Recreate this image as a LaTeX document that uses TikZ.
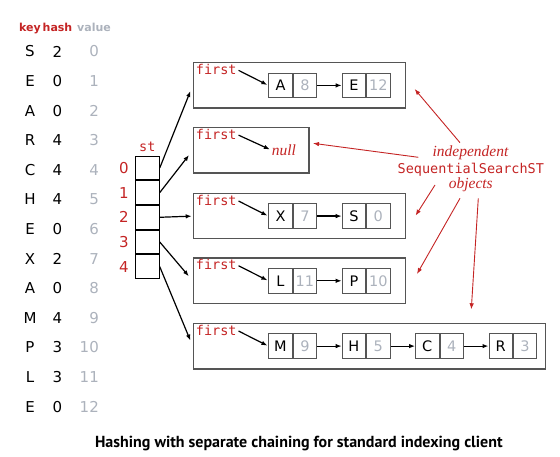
\documentclass[tikz,border=0pt]{standalone}
\usepackage{fontspec}
\setmainfont{DejaVu Sans}
\setmonofont{DejaVu Sans Mono}
\newfontfamily\capfont{PT Sans}
\newfontfamily\itfont{Liberation Serif}
\usepackage{xcolor}
\usetikzlibrary{positioning,arrows.meta}
\definecolor{bookred}{RGB}{196,36,36}
\definecolor{valgray}{RGB}{172,178,188}
\definecolor{framegray}{RGB}{85,85,85}

\begin{document}
\begin{tikzpicture}[
      x=1pt, y=-1pt,
      >={Latex[length=6pt,width=4.5pt]},
      key/.style = {inner sep=0pt, font=\fontsize{15}{17}\selectfont},
      val/.style = {key, anchor=east, text=valgray},
      head/.style = {inner sep=0pt, anchor=base, font=\bfseries\fontsize{11}{13}\selectfont},
      slot/.style = {shape=rectangle, draw, line width=0.9pt, minimum width=24pt, minimum height=23.8pt, inner sep=0pt},
      idx/.style = {inner sep=0pt, text=bookred, font=\fontsize{15}{17}\selectfont},
      chain/.style = {shape=rectangle, draw=framegray, line width=1.3pt, minimum height=45.5pt, inner sep=0pt},
      firstlbl/.style = {inner sep=0pt, anchor=north west, text=bookred, font=\ttfamily\fontsize{13.5}{15}\selectfont},
      kcell/.style = {shape=rectangle, draw=framegray, line width=1pt, minimum width=23.4pt, minimum height=24.6pt, inner sep=0pt, font=\fontsize{14.5}{16}\selectfont},
      vcell/.style = {kcell, text=valgray},
      note/.style = {inner sep=0pt, anchor=base, text=bookred},
      link/.style = {->, line width=1.2pt},
      pointer/.style = {->, draw=bookred, line width=0.9pt}
    ]
      \useasboundingbox (0,0) rectangle (560,457);

      % input table
      \node[head, text=bookred] (hkey) at (30,31.7) {key};
      \node[head, text=bookred] (hhash) at (57.5,31.7) {hash};
      \node[head, text=valgray] (hval) at (94,31.7) {value};
      \node[key] (k0) at (30,51.5) {S}; \node[key] (h0) at (57.5,51.5) {2}; \node[val] (v0) at (99,51.5) {0};
      \node[key] (k1) at (30,81.1) {E}; \node[key] (h1) at (57.5,81.1) {0}; \node[val] (v1) at (99,81.1) {1};
      \node[key] (k2) at (30,110.7) {A}; \node[key] (h2) at (57.5,110.7) {0}; \node[val] (v2) at (99,110.7) {2};
      \node[key] (k3) at (30,140.3) {R}; \node[key] (h3) at (57.5,140.3) {4}; \node[val] (v3) at (99,140.3) {3};
      \node[key] (k4) at (30,169.9) {C}; \node[key] (h4) at (57.5,169.9) {4}; \node[val] (v4) at (99,169.9) {4};
      \node[key] (k5) at (30,199.5) {H}; \node[key] (h5) at (57.5,199.5) {4}; \node[val] (v5) at (99,199.5) {5};
      \node[key] (k6) at (30,229.1) {E}; \node[key] (h6) at (57.5,229.1) {0}; \node[val] (v6) at (99,229.1) {6};
      \node[key] (k7) at (30,258.7) {X}; \node[key] (h7) at (57.5,258.7) {2}; \node[val] (v7) at (99,258.7) {7};
      \node[key] (k8) at (30,288.3) {A}; \node[key] (h8) at (57.5,288.3) {0}; \node[val] (v8) at (99,288.3) {8};
      \node[key] (k9) at (30,317.9) {M}; \node[key] (h9) at (57.5,317.9) {4}; \node[val] (v9) at (99,317.9) {9};
      \node[key] (k10) at (30,347.5) {P}; \node[key] (h10) at (57.5,347.5) {3}; \node[val] (v10) at (99,347.5) {10};
      \node[key] (k11) at (30,377.1) {L}; \node[key] (h11) at (57.5,377.1) {3}; \node[val] (v11) at (99,377.1) {11};
      \node[key] (k12) at (30,406.7) {E}; \node[key] (h12) at (57.5,406.7) {0}; \node[val] (v12) at (99,406.7) {12};

      % array st[]
      \node[slot] (s0) at (147.3,167.9) {};
      \node[slot, below=0pt of s0] (s1) {};
      \node[slot, below=0pt of s1] (s2) {};
      \node[slot, below=0pt of s2] (s3) {};
      \node[slot, below=0pt of s3] (s4) {};
      \node[inner sep=0pt, above=3.5pt of s0, text=bookred, font=\ttfamily\fontsize{13.5}{15}\selectfont] (st) {st};
      \node[idx, left=6pt of s0] (i0) {0};
      \node[idx, left=6pt of s1] (i1) {1};
      \node[idx, left=6pt of s2] (i2) {2};
      \node[idx, left=6pt of s3] (i3) {3};
      \node[idx, left=6pt of s4] (i4) {4};

      % SequentialSearchST objects
      \node[chain, minimum width=212.3pt, anchor=north west] (box0) at (192.7,62) {};
      \node[chain, minimum width=115.6pt, anchor=north west] (box1) at (192.7,126.9) {};
      \node[chain, minimum width=212.3pt, anchor=north west] (box2) at (192.7,192.7) {};
      \node[chain, minimum width=212.3pt, anchor=north west] (box3) at (192.7,257.4) {};
      \node[chain, minimum width=352.3pt, anchor=north west] (box4) at (192.7,322.7) {};

      \node[firstlbl] (f0) at ([xshift=3pt,yshift=-2pt]box0.north west) {first};
      \node[firstlbl] (f1) at ([xshift=3pt,yshift=-2pt]box1.north west) {first};
      \node[firstlbl] (f2) at ([xshift=3pt,yshift=-2pt]box2.north west) {first};
      \node[firstlbl] (f3) at ([xshift=3pt,yshift=-2pt]box3.north west) {first};
      \node[firstlbl] (f4) at ([xshift=3pt,yshift=-2pt]box4.north west) {first};

      % chain 0
      \node[kcell, right=75.6pt of box0.west] (a8k) {A};
      \node[vcell, right=0pt of a8k] (a8v) {8};
      \node[kcell, right=24.6pt of a8v] (e12k) {E};
      \node[vcell, right=0pt of e12k] (e12v) {12};
      % chain 1
      \node[inner sep=0pt, right=79pt of box1.west, text=bookred, font=\itfont\itshape\fontsize{15.5}{17}\selectfont] (nul) {null};
      % chain 2
      \node[kcell, right=75.6pt of box2.west] (x7k) {X};
      \node[vcell, right=0pt of x7k] (x7v) {7};
      \node[kcell, right=24.6pt of x7v] (s0k) {S};
      \node[vcell, right=0pt of s0k] (s0v) {0};
      % chain 3
      \node[kcell, right=75.6pt of box3.west] (l11k) {L};
      \node[vcell, right=0pt of l11k] (l11v) {11};
      \node[kcell, right=24.6pt of l11v] (p10k) {P};
      \node[vcell, right=0pt of p10k] (p10v) {10};
      % chain 4
      \node[kcell, right=75.6pt of box4.west] (m9k) {M};
      \node[vcell, right=0pt of m9k] (m9v) {9};
      \node[kcell, right=24.6pt of m9v] (h5k) {H};
      \node[vcell, right=0pt of h5k] (h5v) {5};
      \node[kcell, right=24.6pt of h5v] (c4k) {C};
      \node[vcell, right=0pt of c4k] (c4v) {4};
      \node[kcell, right=24.6pt of c4v] (r3k) {R};
      \node[vcell, right=0pt of r3k] (r3v) {3};

      % links
      \draw[link, shorten >=6pt] (s0.east) -- (box0.west);
      \draw[link, shorten >=6pt] (s1.east) -- (box1.west);
      \draw[link, shorten >=1pt] (s2.east) -- (box2.west);
      \draw[link, shorten >=6pt] (s3.east) -- (box3.west);
      \draw[link, shorten >=6pt] (s4.east) -- (box4.west);

      \draw[link, shorten <=2pt, shorten >=1pt] (f0.east) -- (a8k.west);
      \draw[link, shorten <=2pt, shorten >=2pt] (f1.east) -- (nul.west);
      \draw[link, shorten <=2pt, shorten >=1pt] (f2.east) -- (x7k.west);
      \draw[link, shorten <=2pt, shorten >=1pt] (f3.east) -- (l11k.west);
      \draw[link, shorten <=2pt, shorten >=1pt] (f4.east) -- (m9k.west);

      \draw[link] (a8v.east) -- (e12k.west);
      \draw[link] (x7v.east) -- (s0k.west);
      \draw[link] (l11v.east) -- (p10k.west);
      \draw[link] (m9v.east) -- (h5k.west);
      \draw[link] (h5v.east) -- (c4k.west);
      \draw[link] (c4v.east) -- (r3k.west);

      % annotation
      \node[note, font=\itfont\itshape\fontsize{15.5}{17}\selectfont] (indep) at (470.5,156.7) {independent};
      \node[note, font=\ttfamily\fontsize{13.5}{15}\selectfont] (seqst) at (470.8,174) {SequentialSearchST};
      \node[note, font=\itfont\itshape\fontsize{15.5}{17}\selectfont] (objs) at (470.8,188.3) {objects};

      \draw[pointer] ([xshift=-10.5pt,yshift=14pt]indep.base) -- ([xshift=8.3pt,yshift=-3.6pt]box0.east);
      \draw[pointer] ([xshift=-52.2pt,yshift=-0.6pt]indep.base) -- ([xshift=3.4pt,yshift=7pt]box1.east);
      \draw[pointer] ([xshift=-35.8pt,yshift=3.3pt]objs.base) -- ([xshift=9.3pt,yshift=0.5pt]box2.east);
      \draw[pointer] ([xshift=-10.8pt,yshift=-10pt]objs.base) -- ([xshift=10.7pt,yshift=6.8pt]box3.east);
      \draw[pointer] ([xshift=7.5pt,yshift=-10pt]objs.base) -- ([xshift=-75pt,yshift=13.4pt]box4.north east);

      % caption
      \node[inner sep=0pt, anchor=base, font=\capfont\bfseries\fontsize{16}{18}\selectfont] (caption) at (298.85,447.7) {Hashing with separate chaining for standard indexing client};
    \end{tikzpicture}
\end{document}
